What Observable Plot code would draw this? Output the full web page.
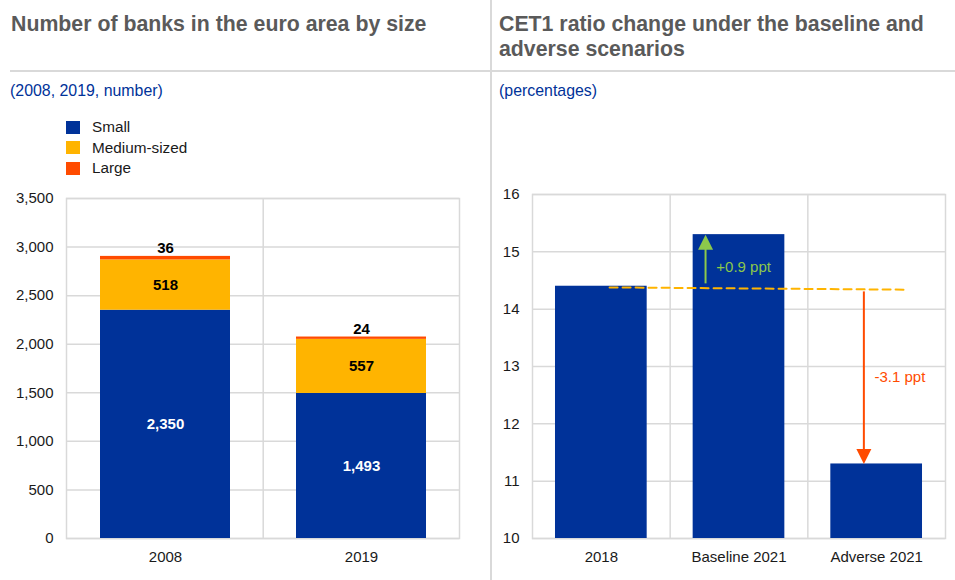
<!DOCTYPE html>
<html>
<head>
<meta charset="utf-8">
<script src="https://cdn.jsdelivr.net/npm/d3@7"></script>
<script src="https://cdn.jsdelivr.net/npm/@observablehq/plot@0.6"></script>
<style>
  html, body { margin: 0; padding: 0; background: #fff; }
  #root { position: relative; width: 955px; height: 580px; overflow: hidden; background: #fff;
          font-family: "Liberation Sans", Arial, sans-serif; }
  .title { position: absolute; top: 12.3px; font-size: 21.3px; line-height: 25px; font-weight: bold; color: #5a5a5a; white-space: nowrap; }
  .sub { position: absolute; top: 83.3px; font-size: 15.9px; line-height: 15.9px; color: #003299; white-space: nowrap; }
  .hline { position: absolute; left: 10px; top: 70px; width: 945px; height: 2px; background: #d9d9d9; }
  .vline { position: absolute; left: 490px; top: 0; width: 2px; height: 580px; background: #d9d9d9; }
  .legend { position: absolute; left: 66px; top: 120px; font-size: 15.3px; color: #1a1a1a; }
  .legend .row { position: relative; height: 20.5px; }
  .legend .sw { position: absolute; left: 0; top: 0.7px; width: 14px; height: 13px; }
  .legend .lb { position: absolute; left: 26px; top: -1px; line-height: 15px; white-space: nowrap; }
  .plot { position: absolute; top: 180px; }
</style>
</head>
<body>
<div id="root">
  <div class="vline"></div>
  <div class="hline"></div>
  <div class="title" style="left:11px">Number of banks in the euro area by size</div>
  <div class="title" style="left:499px">CET1 ratio change under the baseline and<br>adverse scenarios</div>
  <div class="sub" style="left:10px">(2008, 2019, number)</div>
  <div class="sub" style="left:499px">(percentages)</div>
  <div class="legend" id="legend"></div>
  <div class="plot" id="left" style="left:0px"></div>
  <div class="plot" id="right" style="left:490px"></div>
</div>
<script>
// ---------- data: left panel ----------
const years = ["2008", "2019"];
const sizes = ["Small", "Medium-sized", "Large"];
const smallBanks = [2350, 1493];
const mediumBanks = [518, 557];
const largeBanks = [36, 24];
const sizeColors = ["#003299", "#ffb400", "#ff4b00"];
const leftTicks = [0, 500, 1000, 1500, 2000, 2500, 3000, 3500];

// ---------- data: right panel ----------
const scenarios = ["2018", "Baseline 2021", "Adverse 2021"];
const cet1 = [14.4, 15.3, 11.3];
const rightTicks = [10, 11, 12, 13, 14, 15, 16];
// annotations (x in category-index units, y in percent)
const refLine = [{x: 0.06, y: 14.38}, {x: 2.195, y: 14.34}];
const arrowX = [0.757, 1.907];
const arrowFrom = [14.45, 14.31];
const arrowTo = [15.3, 11.3];
const arrowColors = ["#8cc84b", "#ff4b00"];
const arrowLabels = ["+0.9 ppt", "-3.1 ppt"];
const labelX = [0.835, 1.984];
const labelY = [14.73, 12.81];

const FONT = '"Liberation Sans", Arial, sans-serif';
const GRID = "#d9d9d9";
const fmt = d3.format(",");

// ---------- legend ----------
const legend = document.getElementById("legend");
sizes.forEach((s, i) => {
  const row = document.createElement("div");
  row.className = "row";
  row.innerHTML = `<div class="sw" style="background:${sizeColors[i]}"></div><div class="lb">${s}</div>`;
  legend.appendChild(row);
});

// ---------- left chart ----------
const rows = years.flatMap((yr, i) => [
  {year: yr, size: sizes[0], value: smallBanks[i]},
  {year: yr, size: sizes[1], value: mediumBanks[i]},
  {year: yr, size: sizes[2], value: largeBanks[i]}
]);
const L = {w: 480, h: 400, ml: 66, mr: 21, mt: 18, mb: 42, pi: 0.337, po: 0.168};
const lStep = (L.w - L.ml - L.mr) / (years.length - L.pi + 2 * L.po);

const left = Plot.plot({
  width: L.w, height: L.h,
  marginLeft: L.ml, marginRight: L.mr, marginTop: L.mt, marginBottom: L.mb,
  style: {fontFamily: FONT, fontSize: "15px", color: "#1a1a1a", background: "transparent", overflow: "visible"},
  x: {domain: years, paddingInner: L.pi, paddingOuter: L.po, label: null, tickSize: 0, tickPadding: 13},
  y: {domain: [0, 3500], ticks: leftTicks, tickFormat: fmt, label: null, tickSize: 0, tickPadding: 13},
  color: {domain: sizes, range: sizeColors},
  marks: [
    Plot.ruleY(leftTicks, {stroke: GRID, strokeWidth: 1.5}),
    Plot.ruleX(years.slice(1), {stroke: GRID, strokeWidth: 1.5, dx: -lStep / 2}),
    Plot.frame({stroke: GRID, strokeWidth: 1.5}),
    Plot.barY(rows, {x: "year", y: "value", fill: "size", z: "size"}),
    Plot.text(rows, Plot.stackY({x: "year", y: "value", z: "size",
      text: d => d.size === sizes[0] ? fmt(d.value) : "", fill: "white", fontWeight: "bold", fontSize: 15})),
    Plot.text(rows, Plot.stackY({x: "year", y: "value", z: "size",
      text: d => d.size === sizes[1] ? fmt(d.value) : "", fill: "black", fontWeight: "bold", fontSize: 15})),
    Plot.text(rows, Plot.stackY2({x: "year", y: "value", z: "size",
      text: d => d.size === sizes[2] ? fmt(d.value) : "", fill: "black", fontWeight: "bold", fontSize: 15, dy: -8}))
  ]
});
document.getElementById("left").appendChild(left);

// ---------- right chart ----------
const bars = scenarios.map((s, i) => ({i, s, v: cet1[i]}));
const arrows = arrowX.map((x, k) => ({x, from: arrowFrom[k], to: arrowTo[k], color: arrowColors[k],
  label: arrowLabels[k], lx: labelX[k], ly: labelY[k], dir: arrowTo[k] > arrowFrom[k] ? "up" : "down"}));
const half = 0.333; // bar half-width in category units

const headUp = {draw(ctx, size) { const r = Math.sqrt(size / Math.PI);
  ctx.moveTo(0, 0); ctx.lineTo(1.5 * r, 3 * r); ctx.lineTo(-1.5 * r, 3 * r); ctx.closePath(); }};
const headDown = {draw(ctx, size) { const r = Math.sqrt(size / Math.PI);
  ctx.moveTo(0, 0); ctx.lineTo(1.5 * r, -3 * r); ctx.lineTo(-1.5 * r, -3 * r); ctx.closePath(); }};

const right = Plot.plot({
  width: 465, height: 400,
  marginLeft: 42, marginRight: 10, marginTop: 14, marginBottom: 42,
  style: {fontFamily: FONT, fontSize: "15px", color: "#1a1a1a", background: "transparent", overflow: "visible"},
  x: {domain: [-0.5, scenarios.length - 0.5], ticks: scenarios.map((_, i) => i),
      tickFormat: i => scenarios[i], label: null, tickSize: 0, tickPadding: 13},
  y: {domain: [10, 16], ticks: rightTicks, tickFormat: d3.format("d"), label: null, tickSize: 0, tickPadding: 13},
  color: {type: "identity"},
  marks: [
    Plot.ruleY(rightTicks, {stroke: GRID, strokeWidth: 1.5}),
    Plot.ruleX(scenarios.slice(1).map((_, i) => i + 0.5), {stroke: GRID, strokeWidth: 1.5}),
    Plot.frame({stroke: GRID, strokeWidth: 1.5}),
    Plot.rect(bars, {x1: d => d.i - half, x2: d => d.i + half, y1: 10, y2: "v", fill: "#003299"}),
    Plot.line(refLine, {x: "x", y: "y", stroke: "#ffb400", strokeWidth: 2, strokeDasharray: "8,5"}),
    Plot.link(arrows, {x1: "x", x2: "x", y1: "from", y2: d => d.to + (d.dir === "up" ? -0.15 : 0.15),
      stroke: "color", strokeWidth: 2}),
    Plot.dot(arrows.filter(d => d.dir === "up"), {x: "x", y: "to", r: 5, symbol: headUp, fill: "color", stroke: "none"}),
    Plot.dot(arrows.filter(d => d.dir === "down"), {x: "x", y: "to", r: 5, symbol: headDown, fill: "color", stroke: "none"}),
    Plot.text(arrows, {x: "lx", y: "ly", text: "label", fill: "color", textAnchor: "start", fontSize: 15})
  ]
});
document.getElementById("right").appendChild(right);
</script>
</body>
</html>
